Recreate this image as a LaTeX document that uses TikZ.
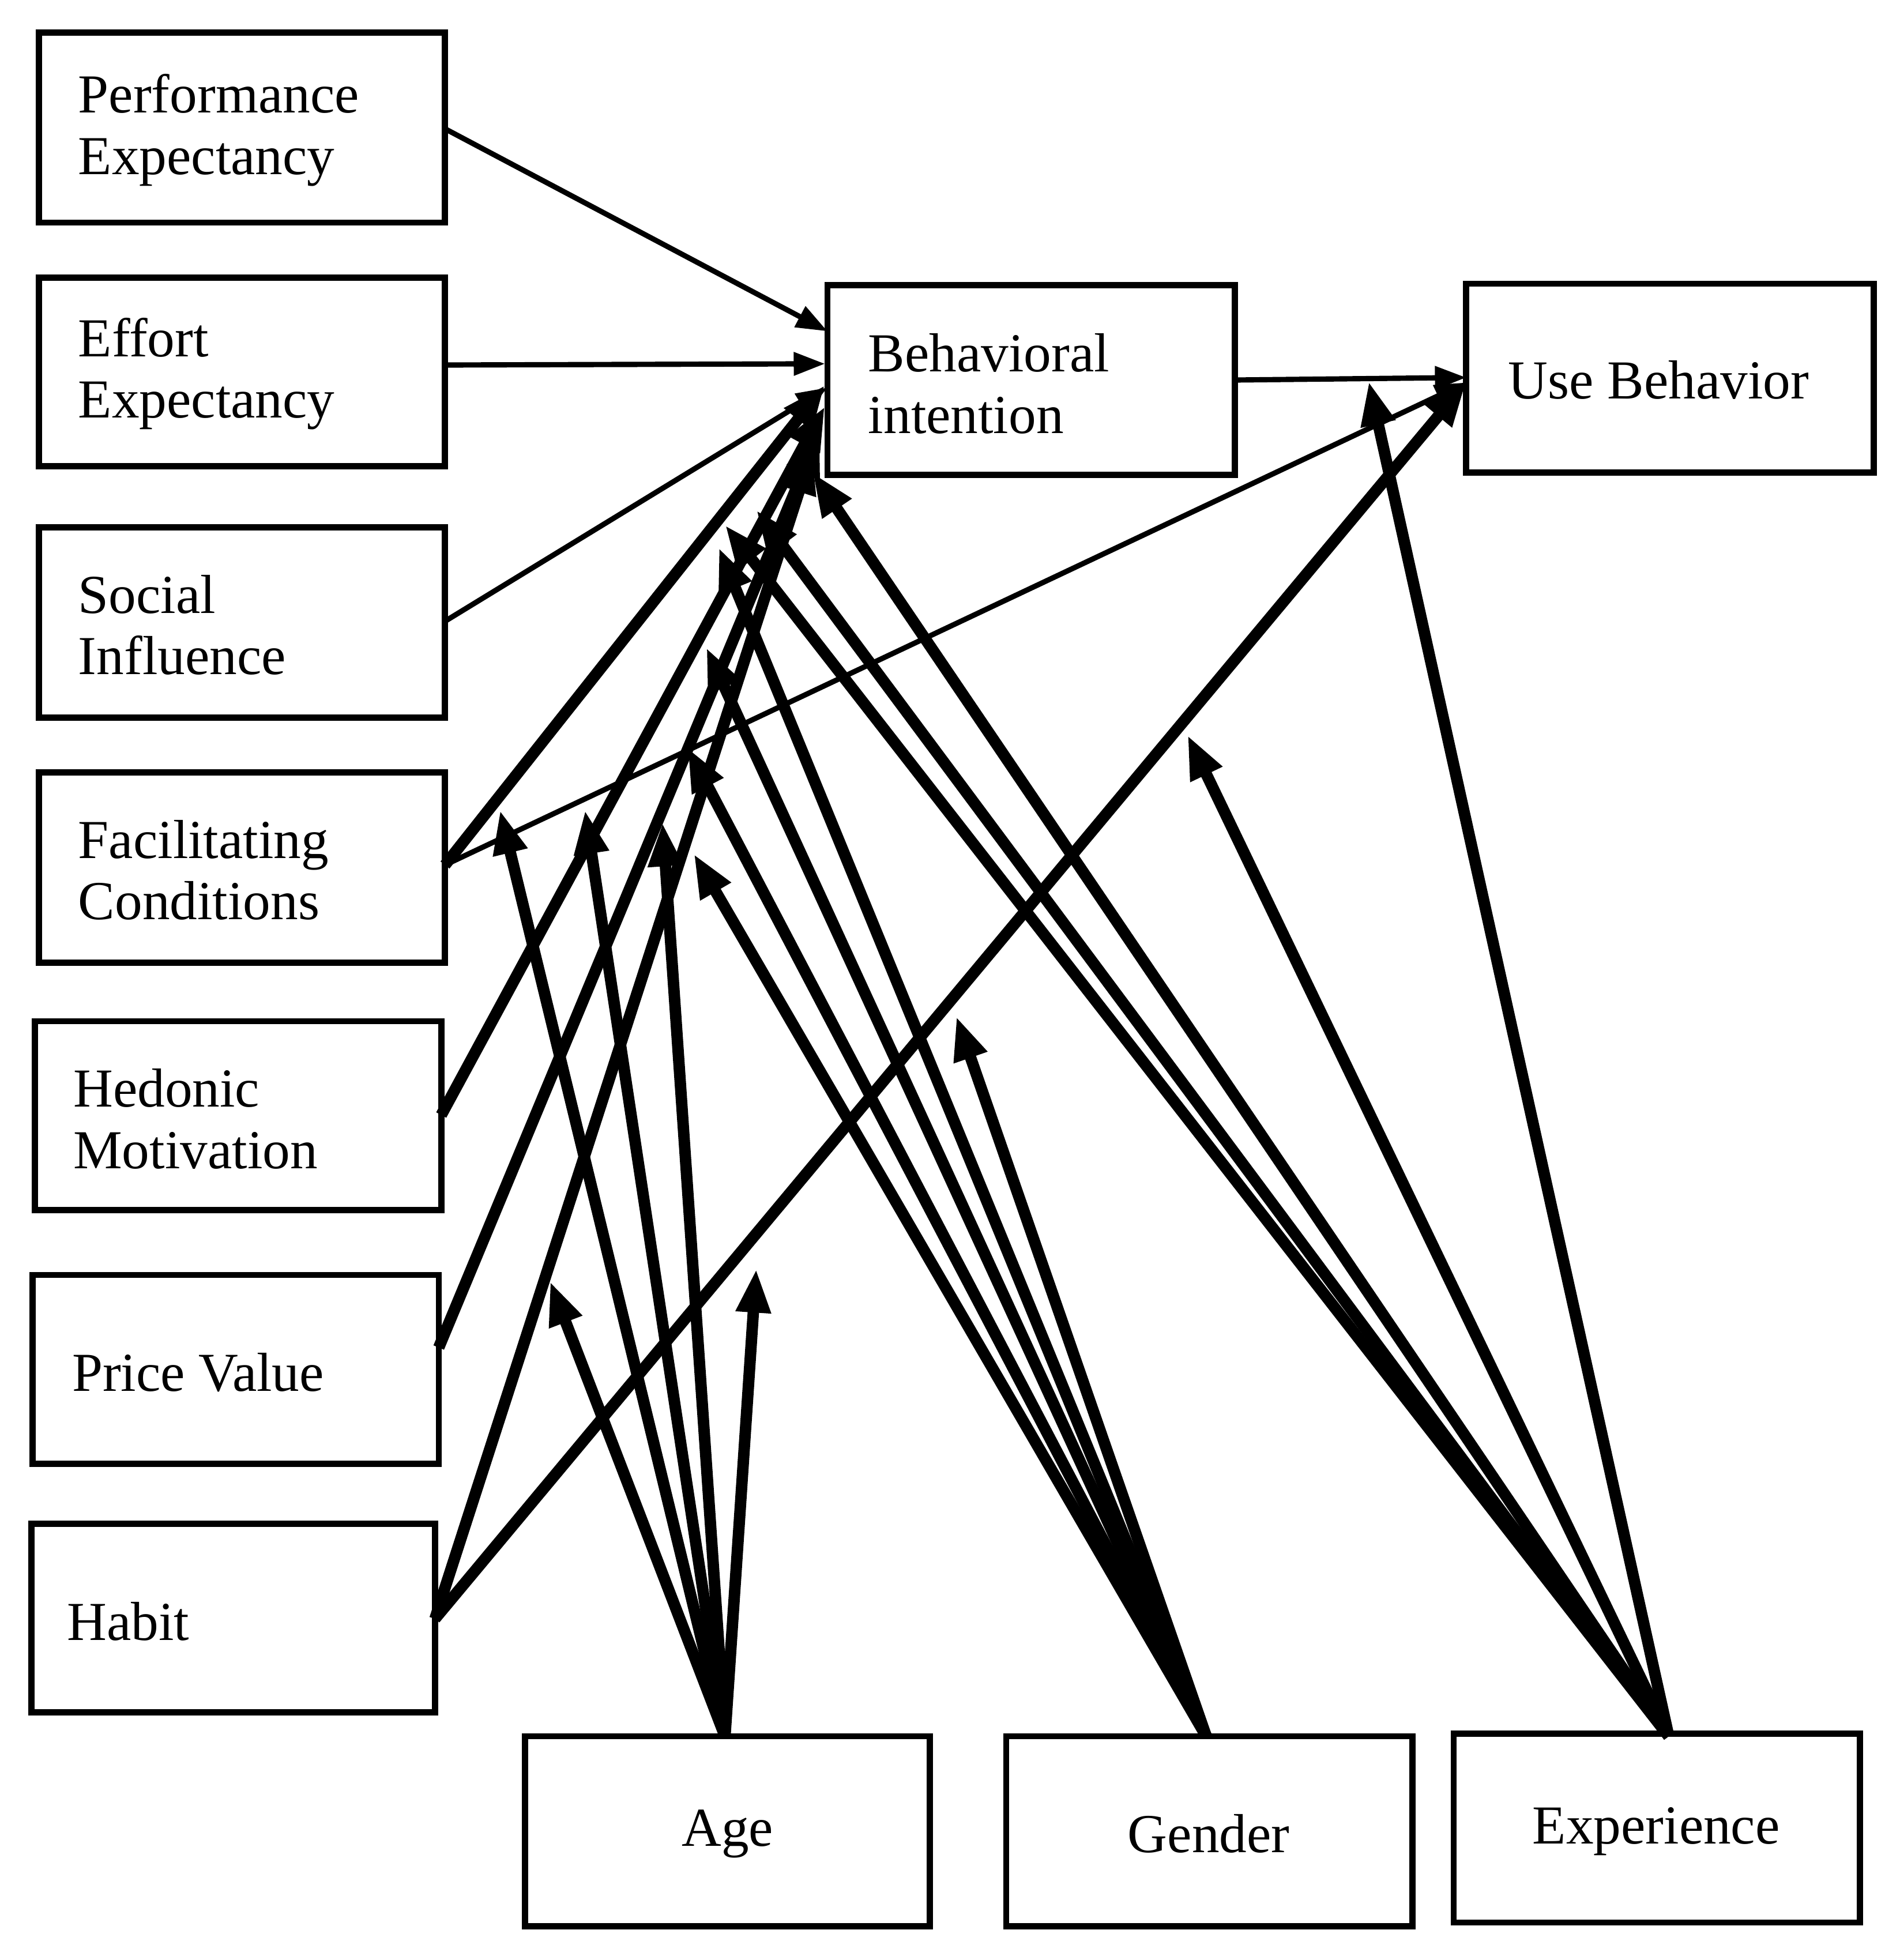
\documentclass[tikz,border=0pt]{standalone}
\usepackage{fontspec}
\setmainfont{Liberation Serif}
\usetikzlibrary{arrows.meta}
\begin{document}
\begin{tikzpicture}[x=0.01cm,y=-0.01cm,
 box/.style={draw,line width=1.4pt,inner sep=0pt},
 lbl/.style={anchor=west,align=left,inner sep=0pt,font=\fontsize{12.5}{14}\selectfont},
 thin/.style={line width=1.2pt,-{Triangle[length=0.25cm,width=0.18cm]}},
 thick/.style={line width=2.6pt,-{Triangle[length=0.35cm,width=0.26cm]}}]
\useasboundingbox (0,0) rectangle (1520,1568);
\fill[white] (0,0) rectangle (1520,1568);
% boxes
\draw[box] (31,26) rectangle (356,178); \node[lbl] (pe) at (62,104) {Performance\\Expectancy};
\draw[box] (31,222) rectangle (356,373); \node[lbl] (ee) at (62,299) {Effort\\Expectancy};
\draw[box] (31,422) rectangle (356,574); \node[lbl] (si) at (62,500) {Social\\Influence};
\draw[box] (31,618) rectangle (356,770); \node[lbl] (fc) at (62,696) {Facilitating\\Conditions};
\draw[box] (28,817) rectangle (353,968); \node[lbl] (hm) at (58,895) {Hedonic\\Motivation};
\draw[box] (26,1020) rectangle (351,1171); \node[lbl] (pv) at (57,1098) {Price Value};
\draw[box] (25,1219) rectangle (348,1370); \node[lbl] (hb) at (53,1297) {Habit};
\draw[box] (662,228) rectangle (988,380); \node[lbl] (bi) at (694,307) {Behavioral\\intention};
\draw[box] (1173,227) rectangle (1499,378); \node[lbl] (ub) at (1206,304) {Use Behavior};
\draw[box] (420,1389) rectangle (744,1541); \node[font=\fontsize{12.5}{14}\selectfont] (age) at (582,1467) {Age};
\draw[box] (805,1389) rectangle (1130,1541); \node[font=\fontsize{12.5}{14}\selectfont] (gen) at (967,1467) {Gender};
\draw[box] (1163,1387) rectangle (1488,1538); \node[font=\fontsize{12.5}{14}\selectfont] (exp) at (1325,1465) {Experience};
% anchor points
\coordinate (peR) at (356,103); \coordinate (eeR) at (358,292); \coordinate (siR) at (356,497);
\coordinate (fcR) at (356,692); \coordinate (hmR) at (353,892); \coordinate (pvR) at (351,1078);
\coordinate (hbR) at (348,1295); \coordinate (biR) at (988,304);
\coordinate (ageT) at (580,1389); \coordinate (genT) at (965,1389); \coordinate (expT) at (1335,1389);
% main paths
\draw[thin] (peR) -- (662,265);
\draw[thin] (eeR) -- (660,291);
\draw[thin] (siR) -- (662,310);
\draw[thin] (biR) -- (1173,302);
\draw[thick] (fcR) -- (660,308);
\draw[thin] (fcR) -- (1173,306);
\draw[thick] (hmR) -- (660,325);
\draw[thick] (pvR) -- (656,345);
\draw[thick] (hbR) -- (650,360);
\draw[thick] (hbR) -- (1173,306);
% Age moderators
\draw[thick] (ageT) -- (400,648);
\draw[thick] (ageT) -- (468,648);
\draw[thick] (ageT) -- (530,658);
\draw[thick] (ageT) -- (440,1025);
\draw[thick] (ageT) -- (605,1015);
% Gender moderators
\draw[thick] (genT) -- (555,683);
\draw[thick] (genT) -- (550,598);
\draw[thick] (genT) -- (565,518);
\draw[thick] (genT) -- (575,438);
\draw[thick] (genT) -- (765,813);
% Experience moderators
\draw[thick] (expT) -- (1095,305);
\draw[thick] (expT) -- (950,588);
\draw[thick] (expT) -- (650,378);
\draw[thick] (expT) -- (605,408);
\draw[thick] (expT) -- (580,420);
\end{tikzpicture}
\end{document}
